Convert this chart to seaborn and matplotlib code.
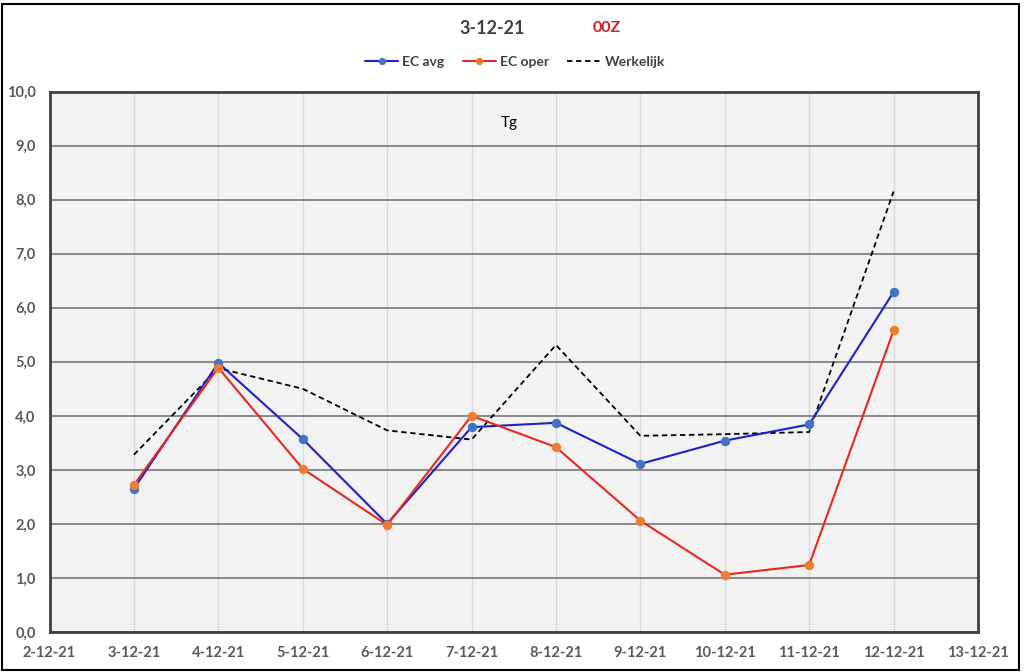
import pandas as pd
import numpy as np
import matplotlib
matplotlib.use("Agg")
import matplotlib.pyplot as plt
import seaborn as sns
from matplotlib.patches import Rectangle

# =====================================================
# DATA
# =====================================================

days = [3, 4, 5, 6, 7, 8, 9, 10, 11, 12]
tick_days = list(range(2, 14))
tick_labels = [f"{d}-12-21" for d in tick_days]

ec_avg = [2.65, 4.98, 3.57, 2.00, 3.79, 3.87, 3.11, 3.54, 3.84, 6.29]
ec_oper = [2.72, 4.89, 3.02, 1.98, 4.00, 3.42, 2.06, 1.06, 1.24, 5.58]
werkelijk = [3.28, 4.88, 4.50, 3.73, 3.56, 5.31, 3.63, 3.66, 3.70, 8.15]

y_ticks = list(range(0, 11))

df = pd.DataFrame({
    "day": days * 3,
    "value": ec_avg + ec_oper + werkelijk,
    "serie": ["EC avg"] * 10 + ["EC oper"] * 10 + ["Werkelijk"] * 10,
})

# =====================================================
# PLOT
# =====================================================

sns.set_theme(style="white")
plt.rcParams["font.family"] = ["Lato", "DejaVu Sans"]

fig = plt.figure(figsize=(10.24, 6.72), dpi=100)
ax = fig.add_axes([49.5 / 1024, 40 / 672, (978 - 49.5) / 1024, (632 - 91.5) / 672])
ax.set_facecolor("#f2f2f2")

line_colors = {"EC avg": "#1f1fcc", "EC oper": "#e8281e", "Werkelijk": "black"}
marker_colors = {"EC avg": "#4472c4", "EC oper": "#ed7d31"}

for name in ["EC avg", "EC oper"]:
    sns.lineplot(
        data=df[df["serie"] == name],
        x="day",
        y="value",
        color=line_colors[name],
        linewidth=1.5,
        marker="o",
        markersize=6,
        markerfacecolor=marker_colors[name],
        markeredgecolor=marker_colors[name],
        label=name,
        ax=ax,
        zorder=4,
    )

sns.lineplot(
    data=df[df["serie"] == "Werkelijk"],
    x="day",
    y="value",
    color="black",
    linewidth=1.3,
    linestyle=(0, (3, 2)),
    label="Werkelijk",
    ax=ax,
    zorder=3,
)

ax.set_xlim(2, 13)
ax.set_ylim(0, 10)
ax.set_xticks(tick_days)
ax.set_xticklabels(tick_labels)
ax.set_yticks(y_ticks)
ax.set_yticklabels([f"{v},0" for v in y_ticks])

for d in tick_days:
    ax.axvline(d, color="#d9d9d9", linewidth=1.0, zorder=1)
for v in y_ticks:
    ax.axhline(v, color="#7f7f7f", linewidth=1.3, zorder=2)

for tl in ax.get_xticklabels() + ax.get_yticklabels():
    tl.set_fontweight("bold")
    tl.set_color("#595959")
    tl.set_fontsize(10.5)
ax.tick_params(axis="x", pad=10, length=0)
ax.tick_params(axis="y", pad=10, length=0)
ax.set_xlabel("")
ax.set_ylabel("")

for s in ax.spines.values():
    s.set_color("#404040")
    s.set_linewidth(2)
    s.set_zorder(5)

ax.text(0.495, 0.955, "Tg", transform=ax.transAxes, ha="center", va="top",
        fontsize=11, color="black")

ax.get_legend().remove()
handles, labels = ax.get_legend_handles_labels()
leg = fig.legend(
    handles, labels,
    loc="center",
    bbox_to_anchor=(515 / 1024, 1 - 62 / 672),
    ncol=3,
    frameon=False,
    fontsize=10,
    markerscale=0.75,
    handlelength=2.4,
    columnspacing=1.3,
    handletextpad=0.3,
)
for t in leg.get_texts():
    t.set_fontweight("bold")
    t.set_color("#404040")

fig.text(492 / 1024, 1 - 28 / 672, "3-12-21", ha="center", va="center",
         fontsize=13, fontweight="bold", color="#404040")
fig.text(607 / 1024, 1 - 28 / 672, "00Z", ha="center", va="center",
         fontsize=11.5, fontweight="bold", color="#cc1f1f")

fig.patches.append(Rectangle((2 / 1024, 2 / 672), 1017 / 1024, 666 / 672,
                             transform=fig.transFigure, fill=False,
                             edgecolor="black", linewidth=1.5))

fig.savefig("out.png", dpi=100)
